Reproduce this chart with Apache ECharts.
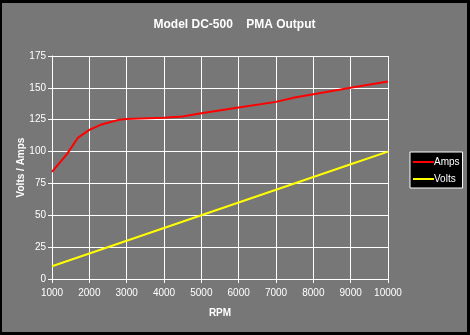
<!DOCTYPE html>
<html>
<head>
<meta charset="utf-8">
<script src="https://cdn.jsdelivr.net/npm/echarts@6/dist/echarts.min.js"></script>
<style>
  html, body { margin: 0; padding: 0; background: #000; }
  #frame { position: relative; width: 470px; height: 335px; background: #000; }
  #chart { position: absolute; left: 2px; top: 3px; width: 465px; height: 329px; }
</style>
</head>
<body>
<div id="frame"><div id="chart"></div></div>
<script>
// Generator output (RPM) vs. current and voltage
const ampsRpm   = [1000, 1400, 1700, 2000, 2300, 2800, 3000, 4000, 4500, 5000, 6000, 7000, 7500, 8000, 9000, 10000];
const ampsValue = [84, 98, 111, 117, 121, 125, 125.5, 126.5, 127.5, 130, 134.5, 139, 142.5, 145, 150, 155];
const voltsRpm   = [1000, 2000, 3000, 4000, 5000, 6000, 7000, 8000, 9000, 10000];
const voltsValue = [10, 20, 30, 40, 50, 60, 70, 80, 90, 100];

const titleText = 'Model DC-500    PMA Output';
const xName = 'RPM';
const yName = 'Volts / Amps';

const zip = (xs, ys) => xs.map((x, i) => [x, ys[i]]);

const chart = echarts.init(document.getElementById('chart'), null, { renderer: 'canvas' });
const font = 'Liberation Sans, Arial, sans-serif';

chart.setOption({
  backgroundColor: '#777777',
  animation: false,
  textStyle: { fontFamily: font },
  title: {
    text: titleText,
    left: 'center',
    top: 11,
    textStyle: { color: '#ffffff', fontSize: 12, fontWeight: 'bold', fontFamily: font }
  },
  grid: { left: 50, top: 53, right: 79, bottom: 53, containLabel: false },
  legend: {
    orient: 'vertical',
    left: 408,
    top: 149,
    backgroundColor: '#000000',
    borderColor: '#ffffff',
    borderWidth: 1,
    borderRadius: 0,
    padding: [5, 3, 4, 3],
    itemGap: 7,
    itemWidth: 21,
    itemHeight: 2,
    icon: 'rect',
    textStyle: { color: '#ffffff', fontSize: 10, fontFamily: font, padding: [0, 0, 0, -5] },
    data: ['Amps', 'Volts']
  },
  xAxis: {
    type: 'value',
    min: 1000,
    max: 10000,
    interval: 1000,
    name: xName,
    nameLocation: 'middle',
    nameGap: 29,
    nameMoveOverlap: false,
    nameTextStyle: { color: '#ffffff', fontSize: 10, fontWeight: 'bold', fontFamily: font },
    axisLine: { show: true, lineStyle: { color: '#ffffff', width: 1 } },
    axisTick: { show: true, length: 4, lineStyle: { color: '#ffffff' } },
    axisLabel: { color: '#ffffff', fontSize: 10, margin: 9, fontFamily: font, formatter: v => String(v) },
    splitLine: { show: true, lineStyle: { color: '#ffffff', width: 1 } }
  },
  yAxis: {
    type: 'value',
    min: 0,
    max: 175,
    interval: 25,
    name: yName,
    nameLocation: 'middle',
    nameGap: 26,
    nameMoveOverlap: false,
    nameRotate: 90,
    nameTextStyle: { color: '#ffffff', fontSize: 10, fontWeight: 'bold', fontFamily: font },
    axisLine: { show: true, lineStyle: { color: '#ffffff', width: 1 } },
    axisTick: { show: true, length: 4, lineStyle: { color: '#ffffff' } },
    axisLabel: { color: '#ffffff', fontSize: 10, margin: 6, fontFamily: font },
    splitLine: { show: true, lineStyle: { color: '#ffffff', width: 1 } }
  },
  series: [
    {
      name: 'Amps',
      type: 'line',
      data: zip(ampsRpm, ampsValue),
      symbol: 'none',
      lineStyle: { color: '#ff0000', width: 2 },
      itemStyle: { color: '#ff0000' }
    },
    {
      name: 'Volts',
      type: 'line',
      data: zip(voltsRpm, voltsValue),
      symbol: 'none',
      lineStyle: { color: '#ffff00', width: 2 },
      itemStyle: { color: '#ffff00' }
    }
  ]
});
</script>
</body>
</html>
